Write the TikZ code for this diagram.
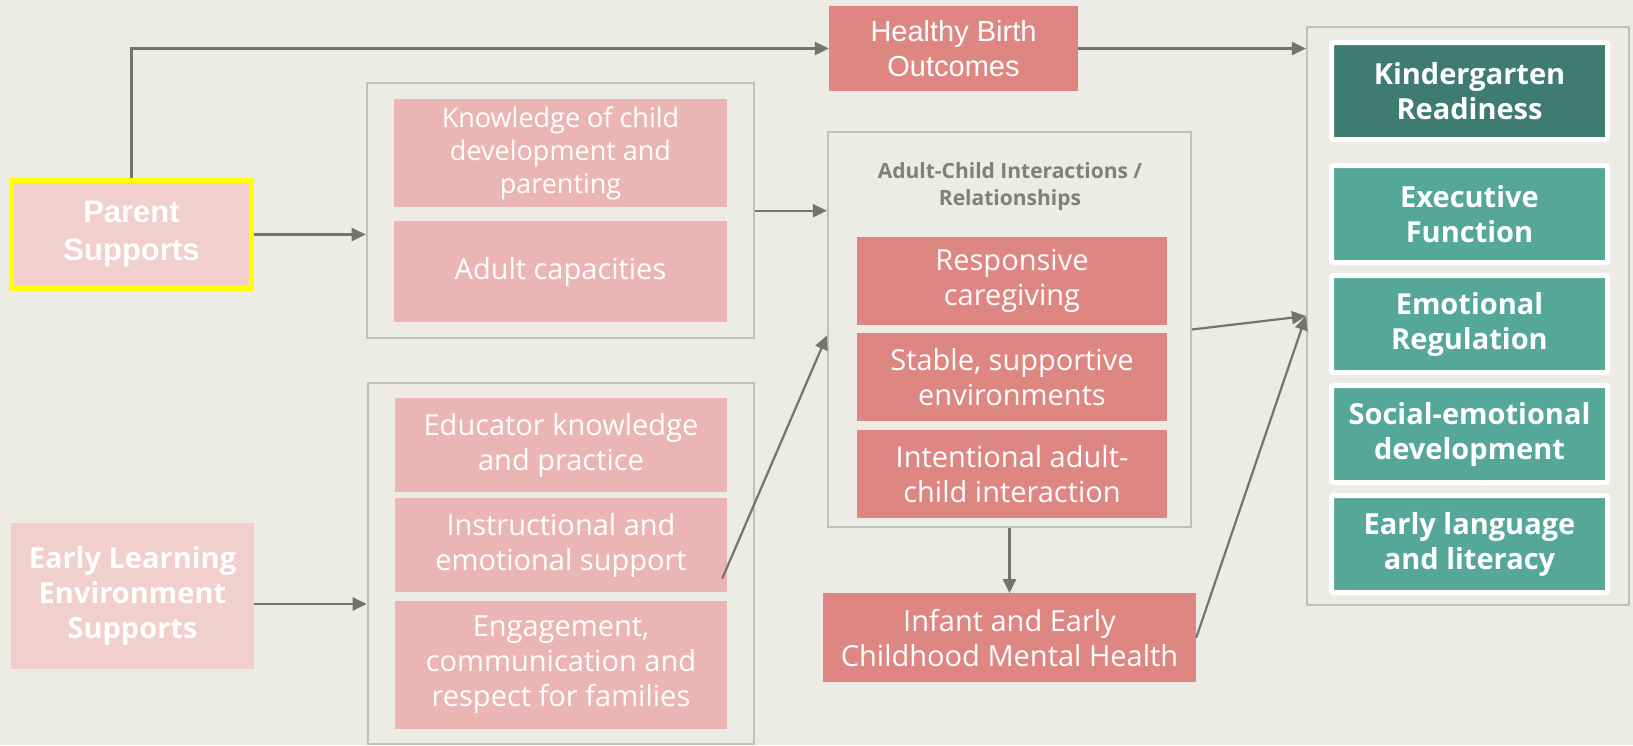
\documentclass[tikz,border=0pt]{standalone}
\usepackage{fontspec}
\setmainfont{Open Sans}
\newfontfamily\arialfont{Liberation Sans}
\usepackage{xcolor}
\usepackage{tikz}
\usetikzlibrary{arrows.meta,positioning,fit}

\definecolor{bgcolor}{HTML}{ECEBE6}
\definecolor{palepink}{HTML}{F0CFCC}
\definecolor{midpink}{HTML}{EAB5B3}
\definecolor{salmon}{HTML}{DE8682}
\definecolor{darkteal}{HTML}{3E7B70}
\definecolor{lightteal}{HTML}{55A898}
\definecolor{boxgray}{HTML}{C0C0BE}
\definecolor{arrowgray}{HTML}{737373}
\definecolor{titlegray}{HTML}{7F7F7F}
\definecolor{hiyellow}{HTML}{FFFF00}

\begin{document}
\begin{tikzpicture}[
        x=1pt, y=-1pt,
        node distance=8pt,
        groupbox/.style={rectangle, draw=boxgray, line width=2.2pt, inner sep=0pt},
        source/.style={rectangle, fill=palepink, text=white, inner sep=0pt, align=center},
        factor/.style={rectangle, fill=midpink, text=white, inner sep=0pt, align=center, minimum width=332pt, font=\fontsize{29}{35}\selectfont},
        result/.style={rectangle, fill=salmon, text=white, inner sep=0pt, align=center, font=\fontsize{29}{35}\selectfont},
        outcome/.style={rectangle, fill=lightteal, draw=white, line width=5pt, rounded corners=2pt, text=white, inner sep=0pt, align=center, minimum width=276pt, minimum height=97pt, font=\fontsize{29}{35}\selectfont\bfseries},
        arrow/.style={-{Triangle[length=14pt,width=13pt]}, draw=arrowgray, line width=2.2pt}
    ]
        % Background
        \path[use as bounding box, fill=bgcolor] (0,0) rectangle (1633,745);

        % Supports
        \node[source, draw=hiyellow, line width=5pt, minimum width=240pt, minimum height=108pt, font=\arialfont\fontsize{31}{38}\selectfont\bfseries] (parent) at (131.5,234.5) {Parent\\Supports};
        \node[source, minimum width=243pt, minimum height=146pt, font=\fontsize{29}{35}\selectfont\bfseries] (early) at (132.5,596) {Early Learning\\Environment\\Supports};

        % Healthy Birth Outcomes
        \node[result, minimum width=249pt, minimum height=85pt, font=\arialfont\fontsize{29}{35}\selectfont] (healthy) at (953.5,48.5) {Healthy Birth\\Outcomes};

        % Parent factors
        \node[factor, minimum width=333pt, minimum height=108pt, font=\fontsize{27}{33}\selectfont] (know) at (560.5,153) {Knowledge of child\\development and\\parenting};
        \node[factor, minimum width=333pt, minimum height=101pt, below=14pt of know] (adultcap) {Adult capacities};
        \node[groupbox, fit=(know)(adultcap), inner xsep=27pt, inner ysep=15.5pt] (grpparent) {};

        % Early learning factors
        \node[factor, minimum height=94pt] (educ) at (561,445) {Educator knowledge\\and practice};
        \node[factor, minimum height=94pt, below=6pt of educ] (instr) {Instructional and\\emotional support};
        \node[factor, minimum height=128pt, below=of instr] (engage) {Engagement,\\communication and\\respect for families};
        \node[groupbox, fit=(educ)(engage), inner xsep=27pt, inner ysep=15pt] (grpearly) {};

        % Adult-child interactions
        \node[groupbox, minimum width=363pt, minimum height=395pt] (grpadult) at (1009.5,329.5) {};
        \node[font=\fontsize{21}{27}\selectfont\bfseries, text=titlegray, align=center] (title) at (1010,187) {Adult-Child Interactions /\\Relationships};
        \node[result, minimum width=310pt, minimum height=88pt] (respon) at (1012,281) {Responsive\\caregiving};
        \node[result, minimum width=310pt, minimum height=88pt, below=of respon] (stable) {Stable, supportive\\environments};
        \node[result, minimum width=310pt, minimum height=88pt, below=of stable] (intent) {Intentional adult-\\child interaction};
        \node[result, minimum width=373pt, minimum height=89pt, below=65pt of grpadult] (infant) {Infant and Early\\Childhood Mental Health};

        % Outcomes
        \node[groupbox, minimum width=322pt, minimum height=578pt] (outbox) at (1468,316) {};
        \node[outcome, fill=darkteal] (kinder) at (1469.5,91) {Kindergarten\\Readiness};
        \node[outcome, below=21pt of kinder] (exec) {Executive\\Function};
        \node[outcome, below=of exec] (emot) {Emotional\\Regulation};
        \node[outcome, below=of emot] (social) {Social-emotional\\development};
        \node[outcome, below=of social] (literacy) {Early language\\and literacy};

        % Arrows
        \draw[arrow] (parent.north) |- (healthy.west);
        \draw[arrow] (healthy.east) -- (healthy.east -| outbox.west);
        \draw[arrow] (parent.east) -- (parent.east -| grpparent.west);
        \draw[arrow] (grpparent.east) -- (grpparent.east -| grpadult.west);
        \draw[arrow] ([shift={(0,8)}]early.east) -- ([shift={(0,8)}]early.east -| grpearly.west);
        \draw[arrow] ([shift={(-5,-14)}]instr.south east) -- ([shift={(0,6)}]grpadult.west);
        \draw[arrow] (grpadult.south) -- (infant.north);
        \draw[arrow] (grpadult.east) -- (outbox.west);
        \draw[arrow] (infant.east) -- (outbox.west);
    \end{tikzpicture}
\end{document}
